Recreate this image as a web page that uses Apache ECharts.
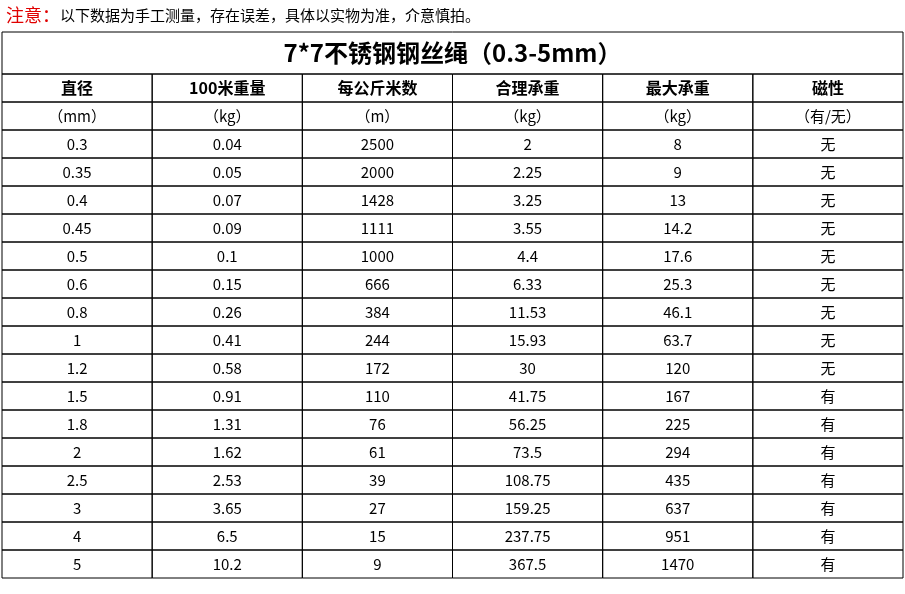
<!DOCTYPE html>
<html><head><meta charset="utf-8">
<script src="https://cdn.jsdelivr.net/npm/echarts@6/dist/echarts.min.js"></script>
<style>html,body{margin:0;background:#fff}#c{width:905px;height:594px}</style>
</head><body><div id="c"></div>
<script>
// 7*7 不锈钢钢丝绳规格表
const title = '7*7不锈钢钢丝绳（0.3-5mm）';
const headers = ['直径', '100米重量', '每公斤米数', '合理承重', '最大承重', '磁性'];
const units = ['（mm）', '（kg）', '（m）', '（kg）', '（kg）', '（有/无）'];
const diameter = ['0.3', '0.35', '0.4', '0.45', '0.5', '0.6', '0.8', '1', '1.2', '1.5', '1.8', '2', '2.5', '3', '4', '5'];
const weight100 = ['0.04', '0.05', '0.07', '0.09', '0.1', '0.15', '0.26', '0.41', '0.58', '0.91', '1.31', '1.62', '2.53', '3.65', '6.5', '10.2'];
const metersPerKg = ['2500', '2000', '1428', '1111', '1000', '666', '384', '244', '172', '110', '76', '61', '39', '27', '15', '9'];
const safeLoad = ['2', '2.25', '3.25', '3.55', '4.4', '6.33', '11.53', '15.93', '30', '41.75', '56.25', '73.5', '108.75', '159.25', '237.75', '367.5'];
const maxLoad = ['8', '9', '13', '14.2', '17.6', '25.3', '46.1', '63.7', '120', '167', '225', '294', '435', '637', '951', '1470'];
const magnetic = ['无', '无', '无', '无', '无', '无', '无', '无', '无', '有', '有', '有', '有', '有', '有', '有'];

const cols = [diameter, weight100, metersPerKg, safeLoad, maxLoad, magnetic];
// [x0, y0, x1, y1, text, kind]
const cells = [[0, -1.5, 6, 0, title, 'title']];
headers.forEach((h, c) => cells.push([c, 0, c + 1, 1, h, 'head']));
units.forEach((u, c) => cells.push([c, 1, c + 1, 2, u, 'unit']));
cols.forEach((col, c) => col.forEach((v, r) => cells.push([c, r + 2, c + 1, r + 3, v, 'body'])));

const font = '"Noto Sans CJK SC", sans-serif';
const chart = echarts.init(document.getElementById('c'));
chart.setOption({
  animation: false,
  grid: { left: 2, right: 2, top: 32, bottom: 16 },
  xAxis: { type: 'value', min: 0, max: 6, show: false },
  yAxis: { type: 'value', min: -1.5, max: 18, inverse: true, show: false },
  graphic: [{
    type: 'text', left: 6, top: 6,
    style: {
      text: '{r|注意：}{b|以下数据为手工测量，存在误差，具体以实物为准，介意慎拍。}',
      rich: {
        r: { fill: '#e00000', fontSize: 18, fontFamily: font },
        b: { fill: '#000', fontSize: 15, fontFamily: font }
      }
    }
  }],
  series: [{
    type: 'custom',
    data: cells,
    renderItem: (params, api) => {
      const d = cells[params.dataIndex];
      const p0 = api.coord([d[0], d[1]]);
      const p1 = api.coord([d[2], d[3]]);
      const kind = d[5];
      const size = kind === 'title' ? 24 : kind === 'head' ? 16 : 15;
      return {
        type: 'group',
        children: [
          { type: 'rect', shape: { x: p0[0], y: p0[1], width: p1[0] - p0[0], height: p1[1] - p0[1] },
            style: { fill: 'none', stroke: '#000', lineWidth: 1 } },
          { type: 'text', x: (p0[0] + p1[0]) / 2, y: (p0[1] + p1[1]) / 2,
            style: { text: d[4], align: 'center', verticalAlign: 'middle', fill: '#000',
              fontSize: size, fontFamily: font,
              fontWeight: (kind === 'title' || kind === 'head') ? 'bold' : 'normal' } }
        ]
      };
    }
  }]
});
</script></body></html>
